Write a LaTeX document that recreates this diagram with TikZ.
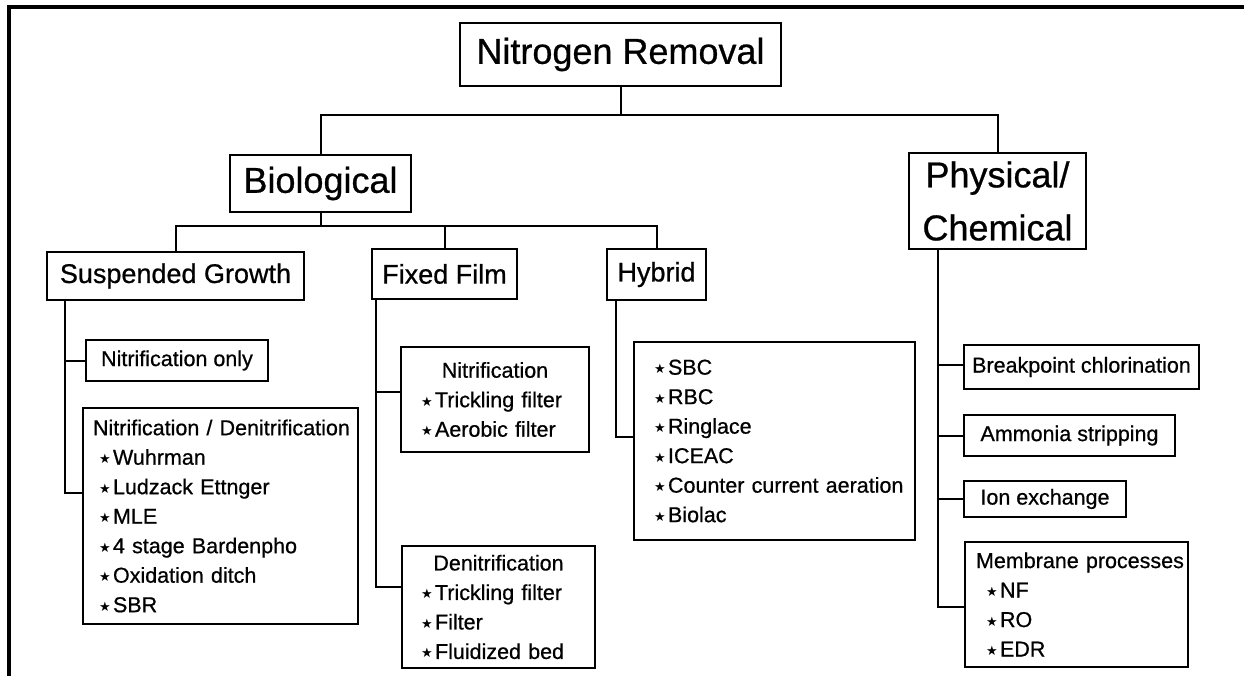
\documentclass[tikz,border=0pt]{standalone}
\usepackage{fontspec}
\setmainfont{Liberation Sans}[FakeBold=0.7]
\newfontfamily\starfont{DejaVu Sans}

\newcommand{\itm}[1]{\mbox{\makebox[14pt][l]{\raisebox{1pt}{\starfont\fontsize{13}{13}\selectfont ★}}#1}}

\begin{document}
\begin{tikzpicture}[x=1pt,y=-1pt,
        box/.style={draw, line width=2pt, inner sep=0pt},
        bigtxt/.style={font=\fontsize{36}{53}\selectfont},
        midtxt/.style={font=\fontsize{27}{32}\selectfont},
        smalltxt/.style={font=\fontsize{21.5}{29.5}\selectfont},
        link/.style={line width=2pt}]

        \useasboundingbox (0,0) rectangle (1244,676);

        % frame
        \draw[line width=4pt] (9,676) -- (9,7) -- (1244,7);

        % top
        \node[box, bigtxt, minimum width=321pt, minimum height=63pt] (root) at (620.5,54.5) {Nitrogen Removal};

        % level one
        \node[box, bigtxt, minimum width=181pt, minimum height=57pt] (bio) at (320.5,183.5) {Biological};
        \node[box, bigtxt, align=center, minimum width=177pt, minimum height=96pt] (phys) at (997.5,201) {Physical/\\Chemical};

        % level two
        \node[box, midtxt, minimum width=257pt, minimum height=48pt] (sus) at (175.5,276) {Suspended Growth};
        \node[box, midtxt, minimum width=145pt, minimum height=50pt] (fixed) at (444.5,274) {Fixed Film};
        \node[box, midtxt, minimum width=99pt, minimum height=51pt] (hyb) at (656.5,274.5) {Hybrid};

        % suspended growth
        \node[box, smalltxt, minimum width=182pt, minimum height=41pt] (nitonly) at (177,360.5) {Nitrification only};
        \node[box, smalltxt, align=left, inner xsep=10pt, text width=255pt, minimum height=216pt] (nitden) at (220.5,516)
            {\mbox{Nitrification / Denitrification}\\
             \hspace*{6pt}\itm{Wuhrman}\\
             \hspace*{6pt}\itm{Ludzack Ettnger}\\
             \hspace*{6pt}\itm{MLE}\\
             \hspace*{6pt}\itm{4 stage Bardenpho}\\
             \hspace*{6pt}\itm{Oxidation ditch}\\
             \hspace*{6pt}\itm{SBR}};

        % fixed film
        \node[box, smalltxt, align=left, inner xsep=20pt, text width=148pt, minimum height=105pt] (fnit) at (495,399.5)
            {\makebox[\linewidth]{Nitrification}\\
             \itm{Trickling filter}\\
             \itm{Aerobic filter}};
        \node[box, smalltxt, align=left, inner xsep=19pt, text width=155pt, minimum height=122pt] (fden) at (498.5,607)
            {\makebox[\linewidth]{Denitrification}\\
             \itm{Trickling filter}\\
             \itm{Filter}\\
             \itm{Fluidized bed}};

        % hybrid
        \node[box, smalltxt, align=left, inner xsep=20pt, text width=241pt, minimum height=198pt] (hlist) at (774.5,441)
            {\itm{SBC}\\
             \itm{RBC}\\
             \itm{Ringlace}\\
             \itm{ICEAC}\\
             \itm{Counter current aeration}\\
             \itm{Biolac}};

        % physical / chemical
        \node[box, smalltxt, minimum width=235pt, minimum height=44pt] (brk) at (1081.5,367) {Breakpoint chlorination};
        \node[box, smalltxt, minimum width=211pt, minimum height=41pt] (amm) at (1069.5,435.5) {Ammonia stripping};
        \node[box, smalltxt, minimum width=162pt, minimum height=36pt] (ion) at (1045,499) {Ion exchange};
        \node[box, smalltxt, align=left, inner xsep=11pt, text width=201pt, minimum height=125pt] (mem) at (1076.5,604.5)
            {\mbox{Membrane processes}\\
             \hspace*{10pt}\itm{NF}\\
             \hspace*{10pt}\itm{RO}\\
             \hspace*{10pt}\itm{EDR}};

        % top links
        \draw[link] (bio.north) -- ++(0,-39) coordinate (bar1) -| (phys.north);
        \draw[link] (root.south) -- (root.south |- bar1);

        % biological links
        \draw[link] (sus.north) -- ++(0,-25) coordinate (bar2) -| (hyb.north);
        \draw[link] (bio.south) -- (bio.south |- bar2);
        \draw[link] (fixed.north) -- (fixed.north |- bar2);

        % suspended growth links
        \coordinate (susfoot) at ([xshift=19pt]sus.south west);
        \draw[link] (susfoot) |- (nitonly.west);
        \draw[link] (susfoot) |- ([yshift=23pt]nitden.west);

        % fixed film links
        \coordinate (fixfoot) at ([xshift=5pt]fixed.south west);
        \draw[link] (fixfoot) |- ([yshift=7.5pt]fnit.west);
        \draw[link] (fixfoot) |- ([yshift=20pt]fden.west);

        % hybrid link
        \coordinate (hybfoot) at ([xshift=10pt]hyb.south west);
        \draw[link] (hybfoot) |- ([yshift=4pt]hlist.west);

        % physical / chemical links
        \coordinate (physfoot) at ([xshift=30pt]phys.south west);
        \draw[link] (physfoot) |- ([yshift=2pt]brk.west);
        \draw[link] (physfoot) |- (amm.west);
        \draw[link] (physfoot) |- (ion.west);
        \draw[link] (physfoot) |- ([yshift=-2.5pt]mem.west);
    \end{tikzpicture}
\end{document}
